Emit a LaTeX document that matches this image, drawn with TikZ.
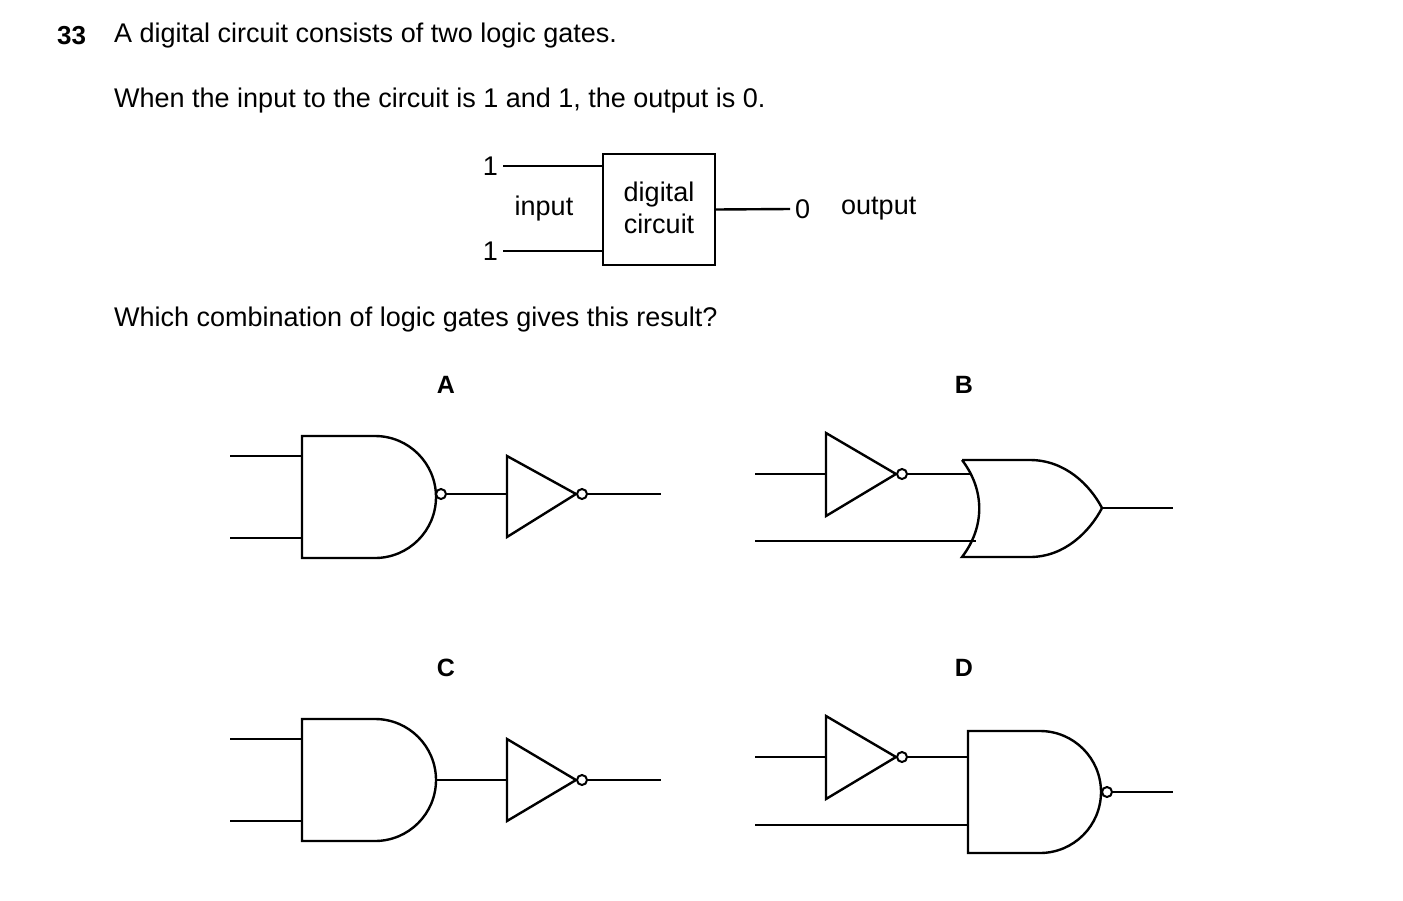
\documentclass[tikz,border=0pt]{standalone}
\usepackage{fontspec}
\setmainfont{Liberation Sans}
\begin{document}
\begin{tikzpicture}[x=1pt,y=-1pt,line width=2.4pt,
  txt/.style={font=\fontsize{27}{32}\selectfont,inner sep=0pt},
  lbl/.style={font=\fontsize{25}{30}\selectfont\bfseries,inner sep=0pt},
  bub/.style={circle,draw,line width=2pt,minimum size=10pt,inner sep=0pt,fill=white}]
\useasboundingbox (0,0) rectangle (1403,900);
\node[txt,anchor=west,font=\fontsize{26}{30}\selectfont\bfseries] (q) at (56,36) {33};
\node[txt,anchor=west] (t1) at (113,36) {A digital circuit consists of two logic gates.};
\node[txt,anchor=west] (t2) at (113,101) {When the input to the circuit is 1 and 1, the output is 0.};
\node[txt,anchor=west] (t3) at (113,320) {Which combination of logic gates gives this result?};
% block
\node[draw,minimum width=112pt,minimum height=111pt,inner sep=0pt] (box) at (659,209.5) {};
\node[txt,align=center] (bt) at (659,208) {digital\\circuit};
\coordinate (i1) at (503,166); \coordinate (i2) at (503,251);
\draw (i1) -- (603,166); \draw (i2) -- (603,251);
\node[txt,anchor=east] (n1) at (499,166) {1};
\node[txt,anchor=east] (n2) at (499,251) {1};
\node[txt] (inp) at (544,209) {input};
\coordinate (o1) at (790,209);
\draw (box.east) -- (o1);
\node[txt,anchor=west] (z) at (794,209) {0};
\node[txt,anchor=west] (outp) at (840,209) {output};
% labels
\node[lbl] (LA) at (446,385) {A};
\node[lbl] (LB) at (964,385) {B};
\node[lbl] (LC) at (446,668) {C};
\node[lbl] (LD) at (964,668) {D};
% A
\draw (230,456) -- (302,456); \draw (230,538) -- (302,538);
\draw (375,436) -- (302,436) -- (302,558) -- (375,558) arc[start angle=90,end angle=-90,radius=61];
\draw (446,494) -- (507,494);
\node[bub] (ba1) at (441,494) {};
\draw (507,456) -- (507,537) -- (576,494) -- cycle;
\node[bub] (ba2) at (582,494) {};
\draw (ba2.east) -- (661,494);
% C
\draw (230,739) -- (302,739); \draw (230,821) -- (302,821);
\draw (375,719) -- (302,719) -- (302,841) -- (375,841) arc[start angle=90,end angle=-90,radius=61];
\draw (436,780) -- (507,780);
\draw (507,739) -- (507,821) -- (576,780) -- cycle;
\node[bub] (bc2) at (582,780) {};
\draw (bc2.east) -- (661,780);
% B
\draw (755,474) -- (826,474);
\draw (826,433) -- (826,516) -- (896,474) -- cycle;
\node[bub] (bb1) at (902,474) {};
\draw (bb1.east) -- (970,474);
\draw (755,541) -- (976,541);
\draw (962,460) -- (1030,460) .. controls (1065,460) and (1090,485) .. (1102,508)
      .. controls (1090,531) and (1065,557) .. (1030,557) -- (962,557)
      .. controls (985,527) and (985,490) .. (962,460);
\draw (1102,508) -- (1173,508);
% D
\draw (755,757) -- (826,757);
\draw (826,716) -- (826,799) -- (896,757) -- cycle;
\node[bub] (bd1) at (902,757) {};
\draw (bd1.east) -- (968,757);
\draw (755,825) -- (968,825);
\draw (1040,731) -- (968,731) -- (968,853) -- (1040,853) arc[start angle=90,end angle=-90,radius=61];
\node[bub] (bd2) at (1107,792) {};
\draw (bd2.east) -- (1173,792);
\end{tikzpicture}
\end{document}
